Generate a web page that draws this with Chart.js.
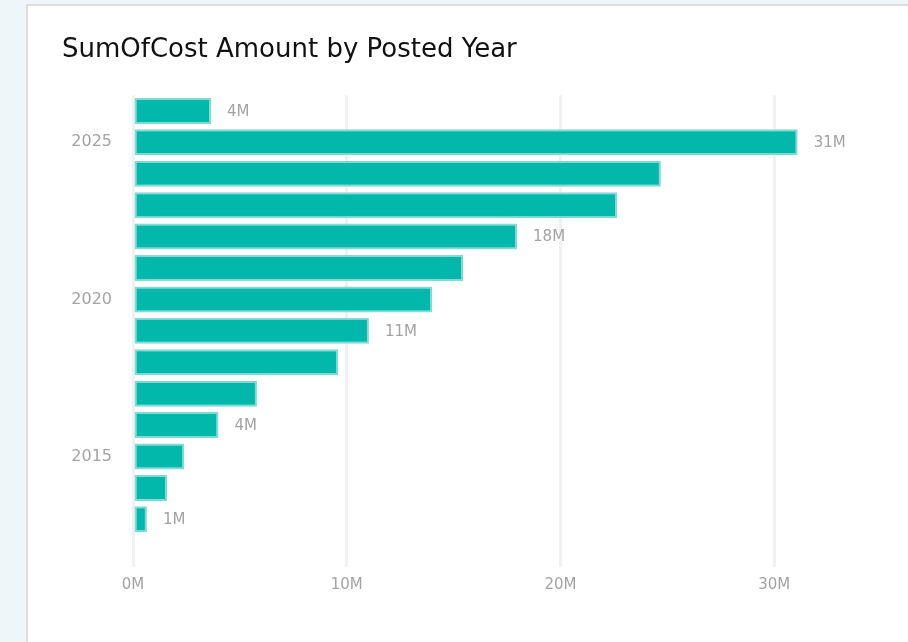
<!DOCTYPE html>
<html lang="en">
<head>
  <meta charset="UTF-8">
  <title>SumOfCost Amount by Posted Year</title>
  <script src="https://cdn.jsdelivr.net/npm/chart.js"></script>
  <style>
    html, body {
      margin: 0;
      padding: 0;
      background: #eef6f9;
      overflow: hidden;
    }
    .card {
      position: absolute;
      left: 26px;
      top: 4px;
      width: 900px;
      height: 660px;
      background: #ffffff;
      border: 2px solid #dcdcdc;
    }
    .chart-box {
      position: absolute;
      left: 0;
      top: 0;
      width: 908px;
      height: 642px;
    }
  </style>
</head>
<body>
  <div class="card"></div>
  <div class="chart-box">
    <canvas id="costChart" width="908" height="642"></canvas>
  </div>

  <script>
    // Posted years, newest first (as the chart shows them top to bottom)
    const years = ['2026', '2025', '2024', '2023', '2022', '2021', '2020',
                   '2019', '2018', '2017', '2016', '2015', '2014', '2013'];
    // SumOfCost Amount in millions
    const costMillions = [3.65, 31.1, 24.7, 22.65, 17.97, 15.45, 14.0,
                          11.04, 9.6, 5.8, 4.0, 2.4, 1.6, 0.65];
    // years whose bars carry a data label
    const labelledYears = ['2026', '2025', '2022', '2019', '2016', '2013'];
    // year labels shown on the category axis
    const yearTicks = ['2025', '2020', '2015'];
    // value axis ticks (millions)
    const valueTicks = [0, 10, 20, 30];

    const tickGray = '#a3a3a3';

    // writes the rounded value next to the labelled bars
    const barValueLabels = {
      id: 'barValueLabels',
      afterDatasetsDraw(chart) {
        const ctx = chart.ctx;
        const meta = chart.getDatasetMeta(0);
        ctx.save();
        ctx.font = '15px "DejaVu Sans", sans-serif';
        ctx.fillStyle = tickGray;
        ctx.textAlign = 'left';
        ctx.textBaseline = 'middle';
        meta.data.forEach(function(bar, i) {
          if (labelledYears.indexOf(years[i]) === -1) return;
          ctx.fillText(Math.round(costMillions[i]) + 'M', bar.x + 16, bar.y + 1);
        });
        ctx.restore();
      }
    };

    const ctx = document.getElementById('costChart').getContext('2d');
    new Chart(ctx, {
      type: 'bar',
      data: {
        labels: years,
        datasets: [{
          data: costMillions,
          backgroundColor: '#01b8aa',
          borderColor: '#80dbd4',
          borderWidth: 2,
          borderSkipped: false,
          barPercentage: 0.9,
          categoryPercentage: 0.92
        }]
      },
      options: {
        indexAxis: 'y',
        responsive: false,
        animation: false,
        layout: {
          padding: { left: 62, right: 27, top: 35, bottom: 39 }
        },
        plugins: {
          legend: { display: false },
          tooltip: { enabled: false },
          title: {
            display: true,
            text: 'SumOfCost Amount by Posted Year',
            align: 'start',
            color: '#111111',
            font: { family: '"DejaVu Sans", sans-serif', size: 26, weight: 'normal' },
            padding: { top: 0, bottom: 29 }
          }
        },
        scales: {
          x: {
            min: 0,
            max: 35,
            afterBuildTicks(scale) {
              scale.ticks = valueTicks.map(v => ({ value: v }));
            },
            border: { display: false },
            grid: {
              color: '#f1f1f1',
              lineWidth: 3,
              drawTicks: true,
              tickLength: 32,
              tickColor: '#f1f1f1',
              tickWidth: 3
            },
            ticks: {
              color: tickGray,
              padding: 9,
              font: { family: '"DejaVu Sans", sans-serif', size: 15 },
              callback: v => v + 'M'
            }
          },
          y: {
            afterFit(scale) {
              scale.width = 71;
            },
            border: { display: false },
            grid: { display: false, drawTicks: false },
            ticks: {
              autoSkip: false,
              color: tickGray,
              padding: 21,
              font: { family: '"DejaVu Sans", sans-serif', size: 16 },
              callback: function(value) {
                const year = this.getLabelForValue(value);
                return yearTicks.indexOf(year) !== -1 ? year : '';
              }
            }
          }
        }
      },
      plugins: [barValueLabels]
    });
  </script>
</body>
</html>
